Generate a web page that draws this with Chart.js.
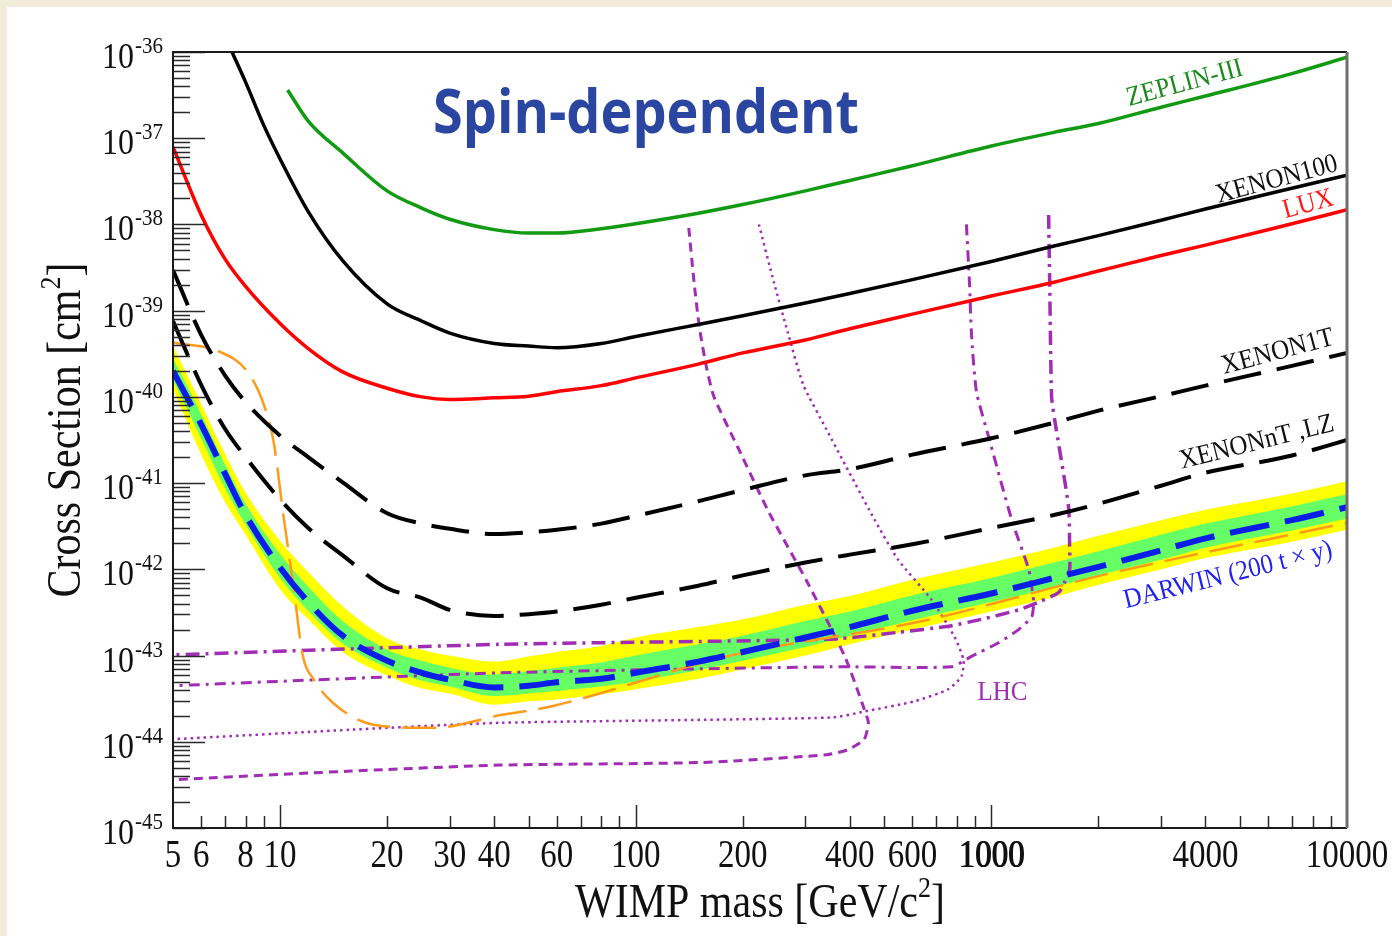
<!DOCTYPE html>
<html>
<head>
<meta charset="utf-8">
<script src="https://cdn.jsdelivr.net/npm/chart.js@4.4.1/dist/chart.umd.min.js"></script>
<style>
  html, body { margin: 0; padding: 0; }
  body { width: 1392px; height: 936px; background: #f3ecdb; overflow: hidden; position: relative; }
  #wrap { position: absolute; left: 7px; top: 7px; width: 1385px; height: 929px; background: #fff; }
</style>
</head>
<body>
<div id="wrap"><canvas id="myChart"></canvas></div>
<script>
// WIMP mass grid [GeV/c^2] shared by most curves
const masses = [5, 6, 7, 8, 10, 12, 15, 20, 25, 30, 40, 50, 60, 80, 100, 150, 200, 300, 400, 600, 1000, 1500, 2000, 3000, 4000, 7000, 10000];

// cross sections [cm^2]
const zeplinMass = [10.5, 12, 15, 20, 25, 30, 40, 50, 60, 80, 100, 150, 200, 300, 400, 600, 1000, 1500, 2000, 3000, 4000, 7000, 10000];
const zeplin = [3.63e-37, 1.58e-37, 6.76e-38, 2.45e-38, 1.55e-38, 1.15e-38, 8.71e-39, 7.94e-39, 7.94e-39, 8.91e-39, 1.02e-38, 1.35e-38, 1.70e-38, 2.45e-38, 3.24e-38, 4.79e-38, 8.13e-38, 1.17e-37, 1.48e-37, 2.29e-37, 3.09e-37, 5.62e-37, 8.71e-37];

const xenon100Mass = [7.2, 8, 9, 10, 12, 15, 20, 25, 30, 40, 50, 60, 80, 100, 150, 200, 300, 400, 600, 1000, 1500, 2000, 3000, 4000, 7000, 10000];
const xenon100 = [1.17e-36, 4.47e-37, 1.41e-37, 5.75e-38, 1.41e-38, 3.80e-39, 1.20e-39, 7.59e-40, 5.50e-40, 4.17e-40, 3.89e-40, 3.72e-40, 4.17e-40, 5.01e-40, 6.92e-40, 8.71e-40, 1.23e-39, 1.58e-39, 2.29e-39, 3.72e-39, 5.62e-39, 7.41e-39, 1.12e-38, 1.51e-38, 2.63e-38, 3.72e-38];

const lux = [7.94e-38, 1.29e-38, 3.98e-39, 1.91e-39, 7.08e-40, 3.63e-40, 1.95e-40, 1.26e-40, 1.00e-40, 9.33e-41, 9.77e-41, 1.02e-40, 1.15e-40, 1.35e-40, 1.66e-40, 2.40e-40, 3.24e-40, 4.57e-40, 6.17e-40, 9.12e-40, 1.48e-39, 2.14e-39, 2.88e-39, 4.37e-39, 5.75e-39, 1.02e-38, 1.48e-38];

const xenon1t = [2.95e-39, 5.25e-40, 1.78e-40, 8.71e-41, 3.55e-41, 2.00e-41, 1.02e-41, 4.47e-42, 3.39e-42, 2.95e-42, 2.57e-42, 2.69e-42, 2.88e-42, 3.39e-42, 4.17e-42, 6.17e-42, 8.32e-42, 1.23e-41, 1.45e-41, 2.14e-41, 3.31e-41, 5.01e-41, 6.92e-41, 1.02e-40, 1.35e-40, 2.29e-40, 3.24e-40];

const xenonnt = [7.6e-40, 1.38e-40, 4.27e-41, 2.00e-41, 6.46e-42, 3.02e-42, 1.45e-42, 6.03e-43, 4.68e-43, 3.39e-43, 2.88e-43, 3.02e-43, 3.24e-43, 3.89e-43, 4.68e-43, 6.46e-43, 8.51e-43, 1.20e-42, 1.48e-42, 1.95e-42, 3.02e-42, 4.27e-42, 5.75e-42, 9.33e-42, 1.32e-41, 2.09e-41, 3.16e-41];

const darwin = [2.00e-40, 4.79e-41, 1.29e-41, 4.27e-42, 1.05e-42, 4.17e-43, 1.70e-43, 8.71e-44, 6.31e-44, 5.25e-44, 4.27e-44, 4.47e-44, 4.90e-44, 5.37e-44, 6.31e-44, 8.51e-44, 1.10e-43, 1.62e-43, 2.14e-43, 3.31e-43, 5.25e-43, 7.94e-43, 1.07e-42, 1.66e-42, 2.29e-42, 3.72e-42, 5.25e-42];
const darwinYellowHi = [3.89e-40, 8.32e-41, 2.19e-41, 7.76e-42, 2.14e-42, 9.33e-43, 3.72e-43, 1.58e-43, 1.17e-43, 1.00e-43, 8.51e-44, 9.77e-44, 1.10e-43, 1.29e-43, 1.62e-43, 2.14e-43, 2.63e-43, 3.89e-43, 4.90e-43, 7.59e-43, 1.20e-42, 1.78e-42, 2.45e-42, 3.72e-42, 4.90e-42, 7.59e-42, 1.05e-41];
const darwinYellowLo = [1.23e-40, 2.14e-41, 6.03e-42, 2.51e-42, 5.89e-43, 2.63e-43, 1.10e-43, 5.89e-44, 4.17e-44, 3.63e-44, 2.69e-44, 2.95e-44, 3.09e-44, 3.55e-44, 4.07e-44, 5.37e-44, 6.92e-44, 1.00e-43, 1.35e-43, 2.00e-43, 3.24e-43, 4.79e-43, 6.61e-43, 1.00e-42, 1.35e-42, 2.09e-42, 2.88e-42];
const darwinGreenHi = [2.82e-40, 6.31e-41, 1.66e-41, 5.75e-42, 1.51e-42, 6.31e-43, 2.51e-43, 1.17e-43, 8.71e-44, 7.24e-44, 6.03e-44, 6.61e-44, 7.24e-44, 8.32e-44, 1.00e-43, 1.35e-43, 1.70e-43, 2.51e-43, 3.24e-43, 5.01e-43, 7.94e-43, 1.20e-42, 1.62e-42, 2.51e-42, 3.39e-42, 5.37e-42, 7.41e-42];
const darwinGreenLo = [1.58e-40, 3.31e-41, 8.71e-42, 3.31e-42, 7.94e-43, 3.31e-43, 1.38e-43, 7.24e-44, 5.13e-44, 4.37e-44, 3.39e-44, 3.63e-44, 3.89e-44, 4.37e-44, 5.01e-44, 6.76e-44, 8.71e-44, 1.26e-43, 1.70e-43, 2.57e-43, 4.17e-43, 6.17e-43, 8.51e-43, 1.29e-42, 1.78e-42, 2.82e-42, 3.89e-42];

const orangeMass = [5, 6.8, 8.1, 9.0, 9.6, 10.2, 10.9, 11.6, 12.4, 14.1, 18.3, 27, 41.7, 57.7, 185, 640, 2040, 10000];
const orange = [4.27e-40, 3.31e-40, 1.95e-40, 8.13e-41, 2.95e-41, 4.47e-42, 6.46e-43, 9.77e-44, 5.37e-44, 2.82e-44, 1.58e-44, 1.45e-44, 2.04e-44, 2.57e-44, 1.00e-43, 2.51e-43, 8.51e-43, 3.47e-42];

// LHC curves (traced from the top of the vertical part down and back to low mass)
const lhcDashedMass = [141, 146, 151, 158, 166, 194, 237, 303, 388, 439, 451, 439, 396, 344, 153, 41.7, 15.8, 5];
const lhcDashed = [9.12e-39, 2.09e-39, 6.46e-40, 2.24e-40, 1.00e-40, 2.57e-41, 4.57e-42, 7.24e-43, 9.55e-44, 2.40e-44, 1.66e-44, 1.07e-44, 8.13e-45, 7.08e-45, 5.75e-45, 5.37e-45, 4.57e-45, 3.63e-45];
const lhcDottedMass = [222, 245, 268, 296, 343, 469, 547, 678, 787, 835, 824, 757, 608, 439, 355, 41.7, 15.8, 5];
const lhcDotted = [1.00e-38, 2.09e-39, 5.50e-40, 1.38e-40, 4.27e-41, 3.80e-42, 1.29e-42, 4.47e-43, 1.66e-43, 8.91e-44, 5.75e-44, 4.07e-44, 2.95e-44, 2.24e-44, 1.91e-44, 1.66e-44, 1.38e-44, 1.07e-44];
const lhcDashDotLowMass = [851, 868, 879, 908, 982, 1140, 1274, 1298, 1315, 1298, 1193, 1048, 879, 772, 355, 41.7, 5];
const lhcDashDotLow = [1.00e-38, 2.09e-39, 5.50e-40, 1.15e-40, 3.47e-41, 3.80e-42, 1.00e-42, 6.31e-43, 4.17e-43, 2.82e-43, 2.00e-43, 1.41e-43, 9.77e-44, 7.41e-44, 7.41e-44, 6.31e-44, 4.47e-44];
const lhcDashDotHighMass = [1449, 1459, 1477, 1506, 1648, 1660, 1660, 1607, 1545, 1358, 1193, 938, 757, 547, 355, 41.7, 5];
const lhcDashDotHigh = [1.29e-38, 2.09e-39, 1.00e-40, 5.50e-41, 5.37e-42, 1.82e-42, 1.00e-42, 7.08e-43, 5.37e-43, 4.17e-43, 3.39e-43, 2.63e-43, 2.19e-43, 1.86e-43, 1.55e-43, 1.35e-43, 1.02e-43];

// axis tick labels
const xTickLabels = [5, 6, 8, 10, 20, 30, 40, 60, 100, 200, 400, 600, 1000, 4000, 10000];
const yTickPowers = [-36, -37, -38, -39, -40, -41, -42, -43, -44, -45];

const serif = '"Liberation Serif", "Times New Roman", serif';
const purple = '#a02db4';

// curve names, anchored in data coordinates
const curveLabels = [
  { text: 'ZEPLIN-III', m: 3500, s: 4.3e-37, angle: -15, color: '#198c19' },
  { text: 'XENON100', m: 6350, s: 3.3e-38, angle: -15, color: '#111' },
  { text: 'LUX', m: 7780, s: 1.7e-38, angle: -15, color: '#ff1a1a' },
  { text: 'XENON1T', m: 6390, s: 3.3e-40, angle: -15, color: '#111' },
  { text: 'XENONnT ,LZ', m: 5580, s: 2.95e-41, angle: -14, color: '#111' },
  { text: 'DARWIN (200 t × y)', m: 4630, s: 8.5e-43, angle: -14, color: '#2222ee' },
  { text: 'LHC', m: 1075, s: 3.7e-44, angle: 0, color: purple },
];

const pts = (xs, ys) => xs.map((x, i) => ({ x, y: ys[i] }));

// smooth curves with increasing mass use monotone interpolation, LHC loops use tension
const line = (label, xs, ys, color, width, dash, order, smooth = 'monotone') => ({
  label,
  data: pts(xs, ys),
  borderColor: color,
  borderWidth: width,
  borderDash: dash,
  pointRadius: 0,
  fill: false,
  cubicInterpolationMode: smooth === 'monotone' ? 'monotone' : 'default',
  tension: smooth === 'monotone' ? 0.4 : smooth,
  order,
});

const band = (label, ys, color, order) => ({
  label,
  data: pts(masses, ys),
  borderWidth: 0,
  borderColor: 'rgba(0,0,0,0)',
  backgroundColor: color || 'rgba(0,0,0,0)',
  pointRadius: 0,
  fill: color ? '+1' : false,
  cubicInterpolationMode: 'monotone',
  order,
});

// text stretched vertically, like the tall glyphs of the original figure
const drawRich = (ctx, parts, cx, y, sy = 1) => {
  let w = 0;
  parts.forEach((p) => {
    ctx.font = p.size + 'px ' + serif;
    w += ctx.measureText(p.t).width;
  });
  ctx.save();
  ctx.translate(cx - w / 2, y);
  ctx.scale(1, sy);
  let x = 0;
  ctx.textAlign = 'left';
  parts.forEach((p) => {
    ctx.font = p.size + 'px ' + serif;
    ctx.fillText(p.t, x, -(p.up || 0));
    x += ctx.measureText(p.t).width;
  });
  ctx.restore();
};

const decorations = {
  id: 'decorations',
  afterDatasetsDraw(chart) {
    const { ctx, chartArea: a } = chart;
    const xs = chart.scales.x;
    const ys = chart.scales.y;
    ctx.save();

    // inward tick marks
    ctx.strokeStyle = '#2a2a2a';
    ctx.lineWidth = 1.5;
    ctx.beginPath();
    for (let e = 0; e <= 4; e++) {
      for (let d = 1; d <= 9; d++) {
        const v = d * Math.pow(10, e);
        if (v <= 5 || v >= 10000) continue;
        const px = Math.round(xs.getPixelForValue(v)) + 0.5;
        ctx.moveTo(px, a.bottom);
        ctx.lineTo(px, a.bottom - (d === 1 ? 23 : 12));
      }
    }
    for (let e = -45; e <= -36; e++) {
      for (let d = 1; d <= 9; d++) {
        if (e === -36 && d > 1) break;
        const py = Math.round(ys.getPixelForValue(d * Math.pow(10, e))) + 0.5;
        ctx.moveTo(a.left, py);
        ctx.lineTo(a.left + (d === 1 ? 32 : 17), py);
      }
    }
    ctx.stroke();

    // frame
    ctx.lineWidth = 2;
    ctx.strokeStyle = '#1a1a1a';
    ctx.beginPath();
    ctx.moveTo(a.right, a.top);
    ctx.lineTo(a.left, a.top);
    ctx.lineTo(a.left, a.bottom);
    ctx.lineTo(a.right, a.bottom);
    ctx.stroke();
    ctx.lineWidth = 3;
    ctx.strokeStyle = '#6e6e6e';
    ctx.beginPath();
    ctx.moveTo(a.right, a.top);
    ctx.lineTo(a.right, a.bottom);
    ctx.stroke();

    // x tick labels (1000 is printed a little heavier in the original)
    ctx.fillStyle = '#111';
    ctx.textBaseline = 'alphabetic';
    ctx.textAlign = 'center';
    ctx.font = '33px ' + serif;
    xTickLabels.forEach((v) => {
      ctx.save();
      ctx.translate(xs.getPixelForValue(v), a.bottom + 39);
      ctx.scale(1, 1.2);
      ctx.fillText(String(v), 0, 0);
      if (v === 1000) ctx.fillText(String(v), 0.9, 0);
      ctx.restore();
    });

    // y tick labels 10^-n
    yTickPowers.forEach((p) => {
      const py = ys.getPixelForValue(Math.pow(10, p));
      const exp = '-' + Math.abs(p);
      ctx.font = '21px ' + serif;
      const ew = ctx.measureText(exp).width;
      const right = a.left - 10;
      ctx.save();
      ctx.translate(0, py + 1);
      ctx.scale(1, 1.1);
      ctx.textAlign = 'left';
      ctx.fillText(exp, right - ew, 0);
      ctx.restore();
      ctx.save();
      ctx.translate(0, py + 16);
      ctx.scale(1, 1.1);
      ctx.font = '32px ' + serif;
      ctx.textAlign = 'right';
      ctx.fillText('10', right - ew - 1, 0);
      ctx.restore();
    });

    // axis titles
    ctx.fillStyle = '#111';
    drawRich(ctx, [
      { t: 'WIMP mass [GeV/c', size: 42 },
      { t: '2', size: 26, up: 17 },
      { t: ']', size: 42 },
    ], (a.left + a.right) / 2, a.bottom + 89, 1.15);

    ctx.save();
    ctx.translate(73, (a.top + a.bottom) / 2 - 10);
    ctx.rotate(-Math.PI / 2);
    drawRich(ctx, [
      { t: 'Cross Section [cm', size: 42 },
      { t: '2', size: 26, up: 17 },
      { t: ']', size: 42 },
    ], 0, 0, 1.15);
    ctx.restore();

    // curve names
    curveLabels.forEach((l) => {
      ctx.save();
      ctx.translate(xs.getPixelForValue(l.m), ys.getPixelForValue(l.s));
      ctx.rotate((l.angle * Math.PI) / 180);
      ctx.scale(1, 1.1);
      ctx.font = '25px ' + serif;
      ctx.fillStyle = l.color;
      ctx.textAlign = 'center';
      ctx.textBaseline = 'middle';
      ctx.fillText(l.text, 0, 0);
      ctx.restore();
    });

    // big title
    let size = 60;
    ctx.font = 'bold ' + size + 'px "Open Sans", "Noto Sans", sans-serif';
    while (ctx.measureText('Spin-dependent').width > 432 && size > 30) {
      size -= 1;
      ctx.font = 'bold ' + size + 'px "Open Sans", "Noto Sans", sans-serif';
    }
    ctx.save();
    ctx.translate(639, 126);
    ctx.scale(1, 1.12);
    ctx.fillStyle = '#2b46a0';
    ctx.textAlign = 'center';
    ctx.textBaseline = 'alphabetic';
    ctx.fillText('Spin-dependent', 0, 0);
    ctx.restore();

    ctx.restore();
  },
};

const ctx = document.getElementById('myChart');

new Chart(ctx, {
  type: 'line',
  data: {
    datasets: [
      band('DARWIN 2 sigma', darwinYellowHi, '#ffff00', 30),
      band('DARWIN 2 sigma low', darwinYellowLo, null, 29),
      band('DARWIN 1 sigma', darwinGreenHi, '#66ff66', 28),
      band('DARWIN 1 sigma low', darwinGreenLo, null, 27),
      line('LHC dashed', lhcDashedMass, lhcDashed, purple, 3, [9, 6], 20, 0.2),
      line('LHC dotted', lhcDottedMass, lhcDotted, purple, 2.5, [2.5, 4], 20, 0.2),
      line('LHC dash-dot', lhcDashDotLowMass, lhcDashDotLow, purple, 3, [11, 6, 3, 6], 20, 0.2),
      line('LHC dash-dot 2', lhcDashDotHighMass, lhcDashDotHigh, purple, 3.5, [14, 6, 3, 6], 20, 0.2),
      line('orange', orangeMass, orange, '#ff9a1a', 2.5, [34, 12], 12),
      line('ZEPLIN-III', zeplinMass, zeplin, '#129a12', 3.5, [], 10),
      line('XENON100', xenon100Mass, xenon100, '#000', 3.5, [], 10),
      line('LUX', masses, lux, '#ff0000', 3.5, [], 10),
      line('XENON1T', masses, xenon1t, '#000', 4, [38, 16], 10),
      line('XENONnT, LZ', masses, xenonnt, '#000', 4, [38, 16], 10),
      line('DARWIN', masses, darwin, '#0a1ee8', 6, [40, 16], 1),
    ],
  },
  options: {
    responsive: true,
    maintainAspectRatio: false,
    animation: false,
    layout: { padding: { left: 166, top: 45, right: 45, bottom: 108 } },
    plugins: {
      legend: { display: false },
      tooltip: { enabled: false },
    },
    scales: {
      x: { type: 'logarithmic', min: 5, max: 10000, display: false },
      y: { type: 'logarithmic', min: 1e-45, max: 1e-36, display: false },
    },
  },
  plugins: [decorations],
});
</script>
</body>
</html>
